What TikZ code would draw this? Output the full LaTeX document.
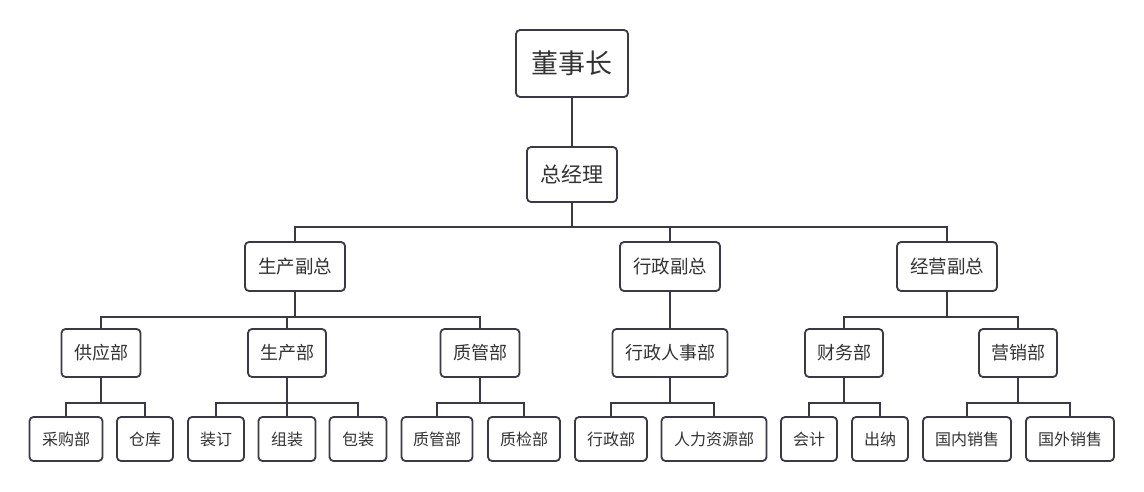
\documentclass[tikz,border=0pt]{standalone}
\usepackage{fontspec}
\newfontfamily\cjk{Noto Sans CJK SC}
\definecolor{edge}{HTML}{3A3A46}
\definecolor{txt}{HTML}{333333}
\begin{document}
\begin{tikzpicture}[x=1pt,y=-1pt,
  box/.style={draw=edge,line width=1.8pt,rounded corners=4pt,fill=white,inner sep=0pt,text=txt,font=\cjk},
  lvA/.style={box,minimum width=112pt,minimum height=67pt,font=\cjk\fontsize{27}{30}\selectfont},
  lvB/.style={box,minimum width=90pt,minimum height=55pt,font=\cjk\fontsize{21}{24}\selectfont},
  lvC/.style={box,minimum width=100pt,minimum height=49pt,font=\cjk\fontsize{18.5}{22}\selectfont},
  lvD/.style={box,minimum height=48pt,font=\cjk\fontsize{18}{21}\selectfont},
  lvE/.style={box,minimum height=44pt,font=\cjk\fontsize{16}{19}\selectfont},
  link/.style={draw=edge,line width=1.6pt},
  stem/.style={draw=edge,line width=2.4pt}]
\useasboundingbox (0,0) rectangle (1144,492);
% level 1-2
\node[lvA] (dsz) at (572,63.5) {董事长};
\node[lvB] (zjl) at (572,174.5) {总经理};
% level 3
\node[lvC] (sc) at (295,266.5) {生产副总};
\node[lvC] (xz) at (670,266.5) {行政副总};
\node[lvC] (jy) at (947,266.5) {经营副总};
% level 4
\node[lvD,minimum width=79pt] (gy) at (101,353) {供应部};
\node[lvD,minimum width=78pt] (scb) at (287,353) {生产部};
\node[lvD,minimum width=79pt] (zg) at (480,353) {质管部};
\node[lvD,minimum width=115pt] (xzrs) at (670,353) {行政人事部};
\node[lvD,minimum width=78pt] (cw) at (844,353) {财务部};
\node[lvD,minimum width=78pt] (yx) at (1018,353) {营销部};
% level 5
\node[lvE,minimum width=73pt] (cg) at (66,439) {采购部};
\node[lvE,minimum width=56pt] (ck) at (145,439) {仓库};
\node[lvE,minimum width=56pt] (zd) at (216,439) {装订};
\node[lvE,minimum width=57pt] (zz) at (287,439) {组装};
\node[lvE,minimum width=57pt] (bz) at (358,439) {包装};
\node[lvE,minimum width=71pt] (zg2) at (437,439) {质管部};
\node[lvE,minimum width=72pt] (zj) at (524,439) {质检部};
\node[lvE,minimum width=72pt] (xzb) at (611,439) {行政部};
\node[lvE,minimum width=105pt] (rl) at (714,439) {人力资源部};
\node[lvE,minimum width=56pt] (kj) at (809,439) {会计};
\node[lvE,minimum width=56pt] (cn) at (880,439) {出纳};
\node[lvE,minimum width=88pt] (gn) at (967,439) {国内销售};
\node[lvE,minimum width=88pt] (gw) at (1070,439) {国外销售};
% bus coordinates
\coordinate (b1) at (572,227);
\coordinate (b2a) at (295,317);
\coordinate (b2c) at (947,317);
\coordinate (b3) at (0,403);
% connectors
\draw[link] (dsz.south) -- (zjl.north);
\draw[stem] (zjl.south) -- (b1);
\foreach \c in {sc,xz,jy} \draw[link] (b1) -| (\c.north);
\draw[stem] (sc.south) -- (b2a);
\foreach \c in {gy,scb,zg} \draw[link] (b2a) -| (\c.north);
\draw[link] (xz.south) -- (xzrs.north);
\draw[stem] (jy.south) -- (b2c);
\foreach \c in {cw,yx} \draw[link] (b2c) -| (\c.north);
\foreach \p/\cl in {gy/{cg,ck},scb/{zd,zz,bz},zg/{zg2,zj},xzrs/{xzb,rl},cw/{kj,cn},yx/{gn,gw}}{
  \draw[stem] (\p.south) -- (\p.south |- b3);
  \foreach \c in \cl \draw[link] (\p.south |- b3) -| (\c.north);
}
\end{tikzpicture}
\end{document}
